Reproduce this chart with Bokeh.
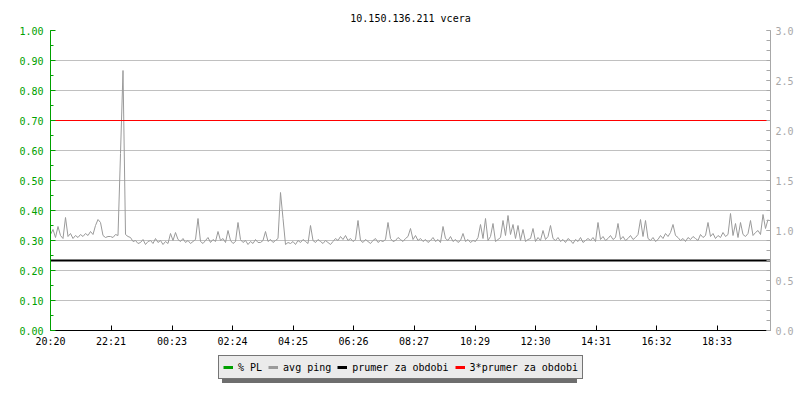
from bokeh.plotting import figure
from bokeh.layouts import column
from bokeh.models import (Range1d, LinearAxis, SingleIntervalTicker, FixedTicker,
                          NumeralTickFormatter, Legend, LegendItem)
from bokeh.embed import file_html
from bokeh.resources import INLINE
import numpy as np

title_text = "10.150.136.211 vcera"
tick_labels = ["20:20", "22:21", "00:23", "02:24", "04:25", "06:26",
               "08:27", "10:29", "12:30", "14:31", "16:32", "18:33"]
legend_labels = ["% PL", "avg ping", "prumer za obdobi", "3*prumer za obdobi"]
sample_minutes = 5
day_minutes = 24 * 60

# avg ping [ms], one value every 5 minutes from 20:20
ping = [
    0.96, 1.01, 0.93, 1.04, 0.95, 0.92, 1.13, 0.94, 0.97, 0.92, 0.95, 0.93,
    0.96, 0.94, 0.97, 0.95, 0.99, 0.96, 1.05, 1.11, 1.08, 0.95, 0.93, 0.94,
    0.94, 0.93, 0.96, 0.95, 1.77, 2.60, 0.96, 0.94, 0.93, 0.89, 0.90, 0.87,
    0.88, 0.91, 0.86, 0.89, 0.90, 0.87, 0.92, 0.88, 0.90, 0.86, 0.89, 0.87,
    0.97, 0.90, 0.98, 0.91, 0.89, 0.92, 0.88, 0.90, 0.87, 0.89, 0.91, 1.12,
    0.89, 0.87, 0.90, 0.93, 0.88, 0.91, 0.89, 0.99, 0.90, 0.92, 0.88, 1.00,
    0.90, 0.87, 0.89, 1.08, 0.91, 0.88, 0.90, 0.86, 0.89, 0.87, 0.91, 0.88,
    0.88, 0.90, 0.99, 0.89, 0.91, 0.88, 0.90, 0.92, 1.38, 1.12, 0.86, 0.88,
    0.87, 0.89, 0.86, 0.90, 0.88, 0.91, 0.89, 0.87, 1.05, 0.90, 0.88, 0.91,
    0.89, 0.87, 0.90, 0.88, 0.86, 0.89, 0.92, 0.90, 0.94, 0.91, 0.95, 0.90,
    0.92, 0.89, 0.91, 1.10, 0.90, 0.88, 0.91, 0.89, 0.87, 0.90, 0.92, 0.88,
    0.90, 0.89, 0.91, 1.08, 0.92, 0.89, 0.90, 0.93, 0.91, 0.89, 0.92, 0.94,
    1.02, 0.91, 0.95, 0.90, 0.92, 0.89, 0.91, 0.88, 0.90, 0.93, 0.89, 0.91,
    0.88, 1.04, 0.92, 0.90, 0.94, 0.89, 0.91, 0.88, 0.90, 0.97, 0.89, 0.91,
    0.88, 0.90, 0.89, 0.93, 1.06, 0.92, 1.12, 0.90, 0.94, 1.07, 0.89, 0.91,
    0.93, 1.10, 0.95, 1.15, 0.96, 1.06, 0.92, 1.05, 0.90, 1.01, 0.89, 0.91,
    0.92, 1.02, 0.89, 0.93, 0.90, 1.00, 0.91, 0.94, 1.05, 0.92, 0.90, 0.93,
    0.89, 0.91, 0.88, 0.92, 0.90, 0.87, 0.91, 0.89, 0.93, 0.88, 0.90, 0.92,
    0.90, 0.93, 0.89, 1.08, 0.91, 0.94, 0.90, 0.92, 0.95, 0.91, 0.93, 1.07,
    0.91, 0.94, 0.90, 0.92, 0.95, 0.91, 0.93, 0.96, 1.11, 0.94, 1.10, 0.92,
    0.90, 0.93, 0.89, 0.91, 0.95, 0.92, 0.97, 0.94, 0.98, 1.06, 0.95, 0.93,
    0.90, 0.92, 0.89, 0.93, 0.91, 0.94, 0.92, 0.90, 0.96, 0.93, 0.95, 1.08,
    0.94, 0.97, 0.92, 0.95, 0.93, 0.98, 0.94, 0.96, 1.17, 0.95, 1.07, 0.93,
    1.08, 0.96, 0.94, 0.97, 1.10, 0.95, 0.98, 1.00, 0.96, 1.16, 1.02, 1.11,
]
prumer = 0.70            # period average [ms]
trojnasobek = 3 * prumer  # 3 x period average

FONT = "DejaVu Sans Mono"
GREEN = "#00a000"
GRAY = "#9a9a9a"
AXGRAY = "#a8a8a8"
GRID = "#c0c0c0"
RED = "#ff0000"


def tick_minutes(lbl):
    h, m = map(int, lbl.split(":"))
    h0, m0 = map(int, tick_labels[0].split(":"))
    return ((h * 60 + m) - (h0 * 60 + m0)) % day_minutes


ticks = [tick_minutes(t) for t in tick_labels]
x = np.arange(len(ping)) * sample_minutes
x_span = [0, day_minutes]

# ---------------- main chart ----------------
p = figure(frame_width=720, frame_height=300, output_backend="svg",
           toolbar_location=None,
           x_range=Range1d(0, day_minutes), y_range=Range1d(0, 1),
           min_border_left=50, min_border_right=30, min_border_top=30,
           min_border_bottom=20, title=title_text)
p.extra_y_ranges = {"ping": Range1d(0, 3)}
p.outline_line_color = None
p.background_fill_color = "white"
p.border_fill_color = "white"

p.title.align = "center"
p.title.vertical_align = "top"
p.title.text_font = FONT
p.title.text_font_size = "10px"
p.title.text_font_style = "normal"
p.title.text_color = "black"
p.title.standoff = 10

xa = p.xaxis[0]
xa.ticker = FixedTicker(ticks=ticks)
xa.major_label_overrides = {t: l for t, l in zip(ticks, tick_labels)}
xa.axis_line_color = "black"
xa.major_tick_in = 5
xa.major_tick_out = 0
xa.minor_tick_line_color = None
xa.major_label_text_font = FONT
xa.major_label_text_font_size = "10px"
xa.major_label_text_color = "black"
xa.major_label_standoff = 5
p.xgrid.grid_line_color = None

ya = p.yaxis[0]
ya.ticker = SingleIntervalTicker(interval=0.1, num_minor_ticks=2)
ya.formatter = NumeralTickFormatter(format="0.00")
ya.axis_line_color = GREEN
ya.major_tick_line_color = GREEN
ya.minor_tick_line_color = GREEN
ya.major_tick_in = 5
ya.major_tick_out = 0
ya.minor_tick_in = 3
ya.minor_tick_out = 0
ya.major_label_text_font = FONT
ya.major_label_text_font_size = "10px"
ya.major_label_text_color = GREEN
ya.major_label_standoff = 7
p.ygrid.ticker = SingleIntervalTicker(interval=0.1)
p.ygrid.grid_line_color = GRID

ra = LinearAxis(y_range_name="ping",
                ticker=SingleIntervalTicker(interval=0.5, num_minor_ticks=5),
                formatter=NumeralTickFormatter(format="0.0"))
ra.axis_line_color = AXGRAY
ra.major_tick_line_color = AXGRAY
ra.minor_tick_line_color = AXGRAY
ra.major_tick_in = 4
ra.major_tick_out = 0
ra.minor_tick_in = 4
ra.minor_tick_out = 0
ra.major_label_text_font = FONT
ra.major_label_text_font_size = "10px"
ra.major_label_text_color = AXGRAY
ra.major_label_standoff = 5
p.add_layout(ra, "right")

p.line(x, ping, y_range_name="ping", line_color=GRAY, line_width=1)
p.line(x_span, [prumer, prumer], y_range_name="ping",
       line_color="black", line_width=2)
p.line(x_span, [trojnasobek, trojnasobek], y_range_name="ping",
       line_color=RED, line_width=1)

# ---------------- legend strip ----------------
lf = figure(width=800, height=50, output_backend="svg", toolbar_location=None,
            x_range=Range1d(0, 1), y_range=Range1d(0, 1),
            x_axis_location=None, y_axis_location=None,
            min_border_left=0, min_border_right=0, min_border_top=0,
            min_border_bottom=0)
lf.outline_line_color = None
lf.grid.grid_line_color = None
lf.background_fill_color = "white"
lf.border_fill_color = "white"

colors = [GREEN, GRAY, "black", RED]
sw = [lf.line([0], [np.nan], line_color=c, line_width=3) for c in colors]


def make_legend(labels, loc, bg, border):
    return Legend(items=[LegendItem(label=l, renderers=[r]) for l, r in zip(labels, sw)],
                  orientation="horizontal", location=loc,
                  background_fill_color=bg, background_fill_alpha=1.0,
                  border_line_color=border, border_line_width=1,
                  padding=4, spacing=6, margin=0,
                  glyph_width=10, glyph_height=14, label_height=14,
                  label_standoff=5, label_text_font=FONT,
                  label_text_font_size="10px", label_text_color="black")


# drop shadow: same-size legend with blank labels, offset by 4 px
blank_labels = ["\u00a0" * len(l) for l in legend_labels]
lf.add_layout(make_legend(blank_labels, (172, 17), "#6e6e6e", None))
lf.add_layout(make_legend(legend_labels, (168, 21), "#ebebeb", "black"))

open("out.html", "w").write(file_html(column(p, lf, spacing=0), INLINE))
